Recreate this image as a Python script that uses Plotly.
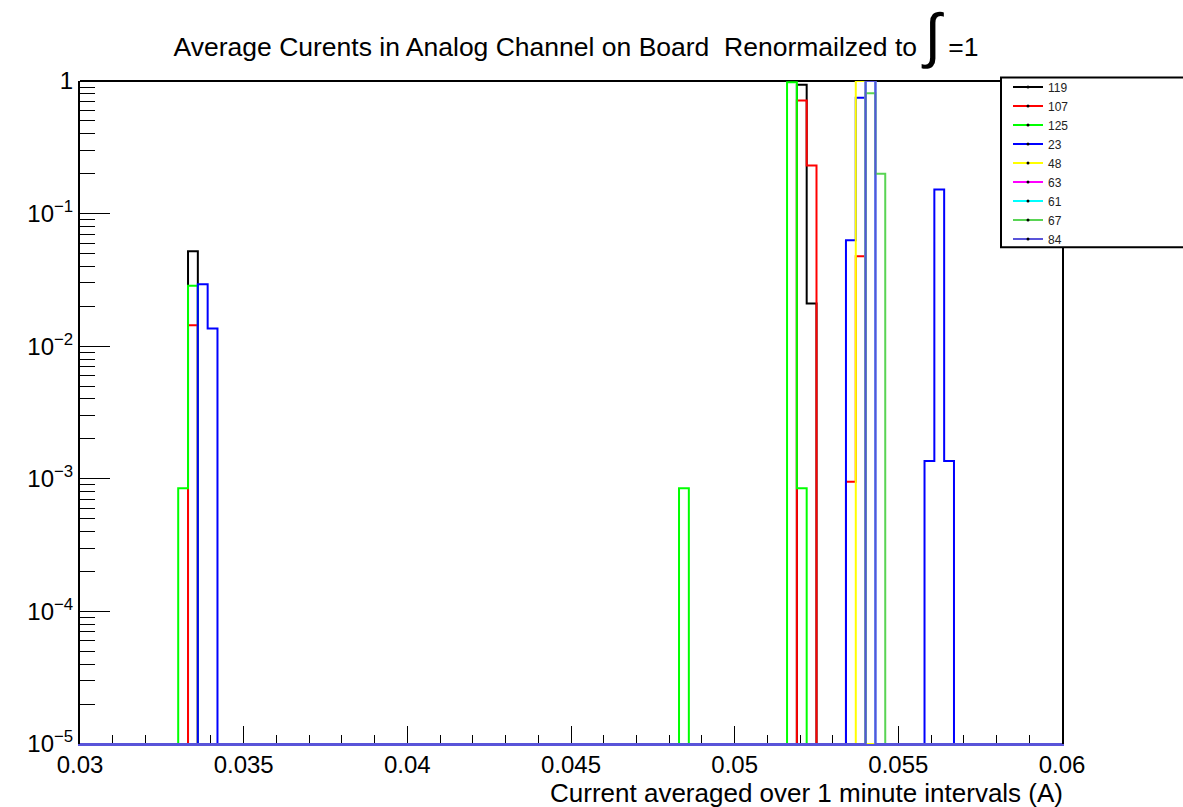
import numpy as np
import plotly.graph_objects as go

# Histogram binning: 100 bins between 0.03 A and 0.06 A
x_min, x_max, n_bins = 0.03, 0.06, 100
y_floor = 1e-5  # bottom of the log axis; empty bins sit here

# Non-empty bins per channel: bin centre (A) and normalised content
ch119_x = [0.03345, 0.05205, 0.05235]
ch119_y = [0.052, 0.938, 0.021]

ch107_x = [0.03345, 0.05205, 0.05235, 0.05355, 0.05385]
ch107_y = [0.0144, 0.714, 0.231, 0.00095, 0.0476]

ch125_x = [0.03315, 0.03345, 0.04845, 0.05175, 0.05205]
ch125_y = [0.00085, 0.0286, 0.00085, 0.98, 0.00085]

ch23_x = [0.03375, 0.03405, 0.05355, 0.05385, 0.05595, 0.05625, 0.05655]
ch23_y = [0.0293, 0.0136, 0.063, 0.748, 0.00136, 0.152, 0.00136]

ch48_x = [0.05385]
ch48_y = [1.0]

ch63_x = [0.05415]
ch63_y = [1.0]

ch61_x = [0.05415]
ch61_y = [1.0]

ch67_x = [0.05415, 0.05445]
ch67_y = [0.81, 0.2]

ch84_x = [0.05415]
ch84_y = [1.0]

channels = ["119", "107", "125", "23", "48", "63", "61", "67", "84"]
chan_x = [ch119_x, ch107_x, ch125_x, ch23_x, ch48_x, ch63_x, ch61_x, ch67_x, ch84_x]
chan_y = [ch119_y, ch107_y, ch125_y, ch23_y, ch48_y, ch63_y, ch61_y, ch67_y, ch84_y]

# ROOT palette indices 1..9
colors = ["#000000", "#ff0000", "#00ff00", "#0000ff", "#ffff00",
          "#ff00ff", "#00ffff", "#59d454", "#5954d9"]

x_tick_vals = [0.03, 0.035, 0.04, 0.045, 0.05, 0.055, 0.06]
x_tick_text = ["0.03", "0.035", "0.04", "0.045", "0.05", "0.055", "0.06"]
y_tick_vals = [1e-5, 1e-4, 1e-3, 1e-2, 1e-1, 1]
y_tick_text = ["10<sup>\u22125</sup>", "10<sup>\u22124</sup>", "10<sup>\u22123</sup>",
               "10<sup>\u22122</sup>", "10<sup>\u22121</sup>", "1"]

edges = np.linspace(x_min, x_max, n_bins + 1)
font = "Arial, Liberation Sans, sans-serif"

fig = go.Figure()
for name, xs, ws, col in zip(channels, chan_x, chan_y, colors):
    counts, _ = np.histogram(xs, bins=edges, weights=ws)
    counts = np.where(counts > 0, counts, y_floor)
    fig.add_trace(go.Scatter(
        x=edges, y=np.append(counts, counts[-1]),
        mode="lines", line=dict(color=col, width=2, shape="hv"),
        showlegend=False, hoverinfo="skip",
    ))

# legend entries (line with a small marker, as in a ROOT legend)
for name, col in zip(channels, colors):
    fig.add_trace(go.Scatter(
        x=[None], y=[None], mode="lines+markers", name=name,
        line=dict(color=col, width=2),
        marker=dict(color="black", size=3),
    ))

W, H = 1183, 807
ml, mr, mt, mb = 80, 121, 80.6, 62.5
pw, ph = W - ml - mr, H - mt - mb


def px_x(p):
    return (p - ml) / pw


def px_y(p):
    return (H - mb - p) / ph


# top edge of the frame (bottom edge carries the last histogram's colour)
fig.add_shape(type="line", xref="paper", yref="paper",
              x0=0, x1=1, y0=1, y1=1,
              line=dict(color="black", width=2), layer="below")

# legend frame
fig.add_shape(type="rect", xref="paper", yref="paper",
              x0=px_x(1001), x1=px_x(1195), y0=px_y(247), y1=px_y(77),
              line=dict(color="black", width=2), fillcolor="white", layer="above")

fig.update_layout(
    width=W, height=H,
    margin=dict(l=ml, r=mr, t=mt, b=mb),
    paper_bgcolor="white", plot_bgcolor="white",
    font=dict(family=font, color="black"),
    title=dict(
        text='Average Curents in Analog Channel on Board  Renormailzed to '
             '<span style="font-size:60px">\u222b</span> =1',
        x=px_x(576), xref="paper", xanchor="center",
        y=1 - 47 / H, yref="container", yanchor="middle",
        font=dict(size=26.5, family=font, color="black"),
    ),
    legend=dict(
        x=px_x(1008), y=px_y(72), xanchor="left", yanchor="top",
        bgcolor="rgba(0,0,0,0)", borderwidth=0,
        font=dict(size=12, family=font, color="#222222"),
        tracegroupgap=0,
    ),
    xaxis=dict(
        range=[x_min, x_max], showgrid=False, zeroline=False,
        showline=True, linecolor="#5954d9", linewidth=2, mirror=False,
        layer="below traces",
        ticks="inside", ticklen=18, tickcolor="black", tickwidth=1,
        tickvals=x_tick_vals, ticktext=x_tick_text,
        tickfont=dict(size=24, family=font, color="black"),
        ticklabelstandoff=-2,
        minor=dict(ticks="inside", ticklen=9, tickcolor="black",
                   dtick=0.001, tick0=0.03, showgrid=False),
    ),
    yaxis=dict(
        type="log", range=[-5, 0], showgrid=False, zeroline=False,
        showline=True, linecolor="black", linewidth=2, mirror=True,
        ticks="inside", ticklen=30, tickcolor="black", tickwidth=1,
        tickvals=y_tick_vals, ticktext=y_tick_text,
        tickfont=dict(size=24, family=font, color="black"),
        minor=dict(ticks="inside", ticklen=15, tickcolor="black",
                   tickvals=[m * 10.0 ** e for e in range(-5, 0) for m in range(2, 10)],
                   showgrid=False),
    ),
)

fig.add_annotation(
    text="Current averaged over 1 minute intervals (A)",
    xref="paper", yref="paper", x=px_x(1065), y=px_y(794),
    xanchor="right", yanchor="middle", showarrow=False,
    font=dict(size=26, family=font, color="black"),
)

fig.write_html("out.html")
